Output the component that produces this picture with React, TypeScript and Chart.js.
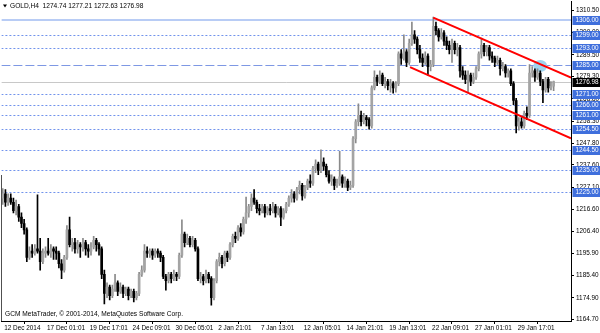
import { useEffect, useRef } from "react";
import { Chart, registerables } from "chart.js";

Chart.register(...registerables);

const symbol = "GOLD,H4";

const opens = [
  1222, 1224, 1220, 1222, 1220, 1216, 1218, 1213, 1210, 1207,
  1194, 1197, 1196, 1198, 1197, 1192, 1196, 1197, 1196, 1198,
  1197, 1196, 1191, 1188, 1194, 1207, 1200, 1201, 1198, 1200,
  1199, 1201, 1198, 1197, 1199, 1202, 1200, 1198, 1186, 1177,
  1180, 1176, 1179, 1182, 1178, 1180, 1177, 1179, 1176, 1178,
  1175, 1177, 1186, 1188, 1197, 1196, 1197, 1195, 1197, 1196,
  1194, 1185, 1183, 1186, 1184, 1186, 1185, 1195, 1205, 1201,
  1203, 1200, 1202, 1198, 1184, 1185, 1183, 1186, 1184, 1175,
  1183, 1192, 1194, 1191, 1196, 1194, 1200, 1204, 1203, 1208,
  1206, 1212, 1215, 1218, 1222, 1220, 1217, 1216, 1218, 1215,
  1217, 1216, 1218, 1215, 1217, 1213, 1216, 1219, 1222, 1224,
  1222, 1226, 1228, 1223, 1227, 1230, 1229, 1236, 1238, 1235,
  1239, 1237, 1233, 1230, 1231, 1228, 1229, 1232, 1229, 1230,
  1227, 1228, 1250, 1258, 1261, 1258, 1260, 1259, 1256, 1274,
  1279, 1277, 1280, 1276, 1277, 1275, 1276, 1274, 1276, 1290,
  1288, 1291, 1286, 1295, 1299, 1297, 1292, 1288, 1286, 1289,
  1284, 1285, 1303, 1301, 1298, 1300, 1296, 1294, 1292, 1295,
  1292, 1293, 1282, 1280, 1278, 1280, 1277, 1279, 1283, 1290,
  1294, 1291, 1293, 1289, 1288, 1286, 1287, 1283, 1284, 1281,
  1282, 1276, 1268, 1256, 1258, 1256, 1262, 1261, 1281, 1282,
  1279, 1281, 1277, 1273, 1278, 1274, 1274.74,
];

const highs = [
  1226.5, 1226, 1224, 1224, 1222, 1221, 1219, 1215, 1212, 1208,
  1199, 1200, 1200, 1223.5, 1203, 1198, 1199, 1203, 1200, 1199,
  1199, 1197, 1193, 1195, 1209, 1213, 1203, 1203, 1202, 1201,
  1203, 1202, 1200, 1201, 1204, 1203, 1201, 1199, 1188, 1182,
  1181, 1181, 1186, 1183, 1182, 1181, 1180, 1180, 1179, 1179,
  1178, 1187, 1190, 1200, 1199, 1198, 1198, 1198, 1198, 1197,
  1195, 1186, 1187, 1187, 1188, 1187, 1196, 1211.7, 1206, 1205,
  1204, 1204, 1203, 1199, 1187, 1186, 1188, 1187, 1185, 1184,
  1193, 1196, 1195, 1197, 1197, 1201, 1205, 1206, 1209, 1210,
  1213, 1222.5, 1219, 1224, 1226, 1221, 1219, 1219, 1219, 1218,
  1219, 1220, 1219, 1218, 1218, 1217, 1220, 1223, 1226, 1225,
  1227, 1230, 1229, 1228, 1231, 1233, 1237, 1240, 1239, 1244.7,
  1241, 1238, 1235, 1233, 1232, 1231, 1244, 1233, 1232, 1231,
  1230, 1251, 1259, 1266.4, 1263, 1262, 1261, 1260, 1275, 1282,
  1280, 1282, 1281, 1279, 1278, 1278, 1277, 1277, 1291, 1292,
  1299, 1292, 1297, 1305, 1301, 1298, 1294, 1290, 1291, 1290,
  1287, 1307.4, 1305, 1302, 1302, 1301, 1298, 1296, 1297, 1296,
  1295, 1294, 1284, 1282, 1282, 1281, 1281, 1284, 1291, 1297.5,
  1295, 1294, 1294, 1291, 1289, 1289, 1288, 1286, 1285, 1283,
  1283, 1277, 1269, 1260, 1260, 1263, 1265, 1285, 1284, 1283,
  1283, 1282, 1278, 1279, 1279, 1277, 1277.21,
];

const lows = [
  1219, 1218, 1218.5, 1219, 1215, 1214, 1211, 1208, 1205, 1192,
  1193, 1194, 1195, 1196, 1188, 1191, 1194, 1195, 1194, 1193,
  1193, 1189, 1184, 1187, 1193, 1199, 1197, 1196, 1196, 1194,
  1197, 1195, 1194, 1195, 1198, 1197, 1195, 1184, 1172, 1175,
  1174, 1175, 1178, 1176, 1177, 1175, 1176, 1174, 1175, 1173,
  1174, 1176, 1185, 1187, 1194, 1194, 1193, 1194, 1194, 1192,
  1184, 1178.5, 1182, 1182, 1183, 1183, 1184, 1194, 1199, 1200,
  1199, 1199, 1197, 1183, 1182, 1181, 1182, 1182, 1171.5, 1174,
  1182, 1190, 1189, 1190, 1192, 1193, 1199, 1201, 1202, 1204,
  1205, 1210, 1213, 1216, 1219, 1215, 1214, 1215, 1213, 1214,
  1214, 1215, 1213, 1214, 1209, 1212, 1215, 1218, 1220, 1220,
  1221, 1224, 1221, 1222, 1226, 1227, 1228, 1234, 1233, 1234,
  1235, 1232, 1229, 1228, 1226, 1227, 1228, 1227, 1227, 1225.5,
  1226, 1227, 1248, 1256, 1256, 1257, 1256, 1254.5, 1255, 1273,
  1275, 1276, 1275, 1274, 1273, 1272, 1271.5, 1272, 1275, 1285,
  1287, 1284, 1285, 1294, 1295, 1290, 1286, 1284, 1285, 1280,
  1282, 1284, 1299, 1296, 1297, 1294, 1292, 1290, 1286, 1290,
  1289, 1279, 1278, 1276, 1271.6, 1275, 1276, 1278, 1282, 1288,
  1289, 1289, 1287, 1286, 1284, 1285, 1280, 1282, 1279, 1279,
  1275, 1266, 1252.7, 1254, 1255, 1255, 1259, 1260, 1279, 1277,
  1278, 1275, 1267, 1272, 1272, 1273, 1272.63,
];

const closes = [
  1224, 1220, 1222, 1220, 1216, 1218, 1213, 1210, 1207, 1194,
  1197, 1196, 1198, 1197, 1192, 1196, 1197, 1196, 1198, 1197,
  1196, 1191, 1188, 1194, 1207, 1200, 1201, 1198, 1200, 1199,
  1201, 1198, 1197, 1199, 1202, 1200, 1198, 1186, 1177, 1180,
  1176, 1179, 1182, 1178, 1180, 1177, 1179, 1176, 1178, 1175,
  1177, 1186, 1188, 1197, 1196, 1197, 1195, 1197, 1196, 1194,
  1185, 1183, 1186, 1184, 1186, 1185, 1195, 1205, 1201, 1203,
  1200, 1202, 1198, 1184, 1185, 1183, 1186, 1184, 1175, 1183,
  1192, 1194, 1191, 1196, 1194, 1200, 1204, 1203, 1208, 1206,
  1212, 1215, 1218, 1222, 1220, 1217, 1216, 1218, 1215, 1217,
  1216, 1218, 1215, 1217, 1213, 1216, 1219, 1222, 1224, 1222,
  1226, 1228, 1223, 1227, 1230, 1229, 1236, 1238, 1235, 1239,
  1237, 1233, 1230, 1231, 1228, 1229, 1232, 1229, 1230, 1227,
  1228, 1250, 1258, 1261, 1258, 1260, 1259, 1256, 1274, 1279,
  1277, 1280, 1276, 1277, 1275, 1276, 1274, 1276, 1290, 1288,
  1291, 1286, 1295, 1299, 1297, 1292, 1288, 1286, 1289, 1284,
  1285, 1303, 1301, 1298, 1300, 1296, 1294, 1292, 1295, 1292,
  1293, 1282, 1280, 1278, 1280, 1277, 1279, 1283, 1290, 1294,
  1291, 1293, 1289, 1288, 1286, 1287, 1283, 1284, 1281, 1282,
  1276, 1268, 1256, 1258, 1256, 1262, 1261, 1281, 1282, 1279,
  1281, 1277, 1273, 1278, 1274, 1274.74, 1276.98,
];

const xTickLabels = [
  "12 Dec 2014", "17 Dec 01:01", "19 Dec 17:01", "24 Dec 09:01", "30 Dec 05:01",
  "2 Jan 21:01", "7 Jan 13:01", "12 Jan 05:01", "14 Jan 21:01", "19 Jan 13:01",
  "22 Jan 09:01", "27 Jan 01:01", "29 Jan 17:01",
];
const barsPerXLabel = 16;
const slotCount = 213;

const yTicks = [
  1164.7, 1174.9, 1185.4, 1195.9, 1206.4, 1216.6, 1227.1, 1237.6,
  1247.8, 1258.3, 1268.8, 1279.3, 1289.5, 1300.0, 1310.5,
];
const yMin = 1164.0;
const yMax = 1314.96;

const resistanceLevel = 1306;
const dashedLevel = 1285;
const dottedLevels = [1299, 1293, 1271, 1266, 1261, 1254.5, 1244.5, 1235, 1225];

const upperChannel = [
  { x: 161, y: 1307.1 },
  { x: 212.5, y: 1278.8 },
];
const lowerChannel = [
  { x: 152.3, y: 1283.8 },
  { x: 212.5, y: 1250.2 },
];
const highlight = { x: 201, y: 1284.3, rx: 2.6, ry: 2.8 };
const frameStartPrice = 1233;

const copyright = "GCM MetaTrader, \u00a9 2001-2014, MetaQuotes Software Corp.";

const FONT = '"Liberation Sans", Arial, sans-serif';
const BULL_BODY = "#a4a4a4";
const BULL_WICK = "#8a8a8a";
const BEAR = "#000000";

export default function App() {
  const ref = useRef<HTMLCanvasElement | null>(null);

  useEffect(() => {
    const canvas = ref.current;
    if (!canvas) return;
    const last = closes.length - 1;
    const bid = closes[last];
    const title = `${symbol}  ${opens[last].toFixed(2)} ${highs[last].toFixed(2)} ${lows[last].toFixed(2)} ${closes[last].toFixed(2)}`;

    const overlay = {
      id: "mt4overlay",
      beforeDatasetsDraw(chart: any) {
        const { ctx, chartArea: a, scales } = chart;
        const x = scales.x;
        const y = scales.y;
        ctx.save();
        ctx.beginPath();
        ctx.rect(a.left, a.top, a.right - a.left, a.bottom - a.top);
        ctx.clip();
        const hline = (v: number, color: string, width: number, dash: number[]) => {
          const py = Math.round(y.getPixelForValue(v)) + (width % 2 ? 0.5 : 0);
          ctx.strokeStyle = color;
          ctx.lineWidth = width;
          ctx.setLineDash(dash);
          ctx.beginPath();
          ctx.moveTo(a.left, py);
          ctx.lineTo(a.right, py);
          ctx.stroke();
        };
        dottedLevels.forEach((v) => hline(v, "#7193ec", 1, [2, 2]));
        hline(resistanceLevel, "#b8ccf5", 2, []);
        hline(dashedLevel, "#7e98e4", 1, [9, 3]);
        hline(bid, "#c8c8c8", 1, []);
        ctx.setLineDash([]);
        const cx = x.getPixelForValue(highlight.x);
        const cy = y.getPixelForValue(highlight.y);
        const rx = Math.abs(x.getPixelForValue(highlight.x + highlight.rx) - cx);
        const ry = Math.abs(y.getPixelForValue(highlight.y + highlight.ry) - cy);
        ctx.fillStyle = "#9ed3ef";
        ctx.beginPath();
        ctx.ellipse(cx, cy, rx, ry, 0, 0, Math.PI * 2);
        ctx.fill();
        ctx.restore();
      },
      afterDatasetsDraw(chart: any) {
        const { ctx, chartArea: a, scales } = chart;
        const x = scales.x;
        const y = scales.y;
        ctx.save();
        ctx.beginPath();
        ctx.rect(a.left, a.top, a.right - a.left, a.bottom - a.top);
        ctx.clip();
        ctx.strokeStyle = "#ff0000";
        ctx.lineWidth = 2;
        [upperChannel, lowerChannel].forEach((seg) => {
          ctx.beginPath();
          ctx.moveTo(x.getPixelForValue(seg[0].x), y.getPixelForValue(seg[0].y));
          ctx.lineTo(x.getPixelForValue(seg[1].x), y.getPixelForValue(seg[1].y));
          ctx.stroke();
        });
        ctx.restore();
        // left frame segment
        ctx.save();
        ctx.strokeStyle = "#505050";
        ctx.lineWidth = 1;
        ctx.beginPath();
        ctx.moveTo(1.5, Math.round(y.getPixelForValue(frameStartPrice)));
        ctx.lineTo(1.5, a.bottom);
        ctx.stroke();
        ctx.restore();
      },
      afterDraw(chart: any) {
        const { ctx, chartArea: a, scales, width } = chart;
        const y = scales.y;
        ctx.save();
        ctx.font = `6.4px ${FONT}`;
        ctx.textBaseline = "middle";
        ctx.textAlign = "left";
        const box = (v: number, bg: string) => {
          const py = Math.round(y.getPixelForValue(v));
          ctx.fillStyle = bg;
          ctx.fillRect(a.right + 1.5, py - 4, width - a.right - 1.5, 9);
          ctx.fillStyle = "#ffffff";
          ctx.fillText(v.toFixed(2), a.right + 4.5, py + 0.5);
        };
        [resistanceLevel, dashedLevel, ...dottedLevels].forEach((v) => box(v, "#3f6fdc"));
        box(bid, "#000000");
        ctx.fillStyle = "#000000";
        ctx.beginPath();
        ctx.moveTo(3, 4.5);
        ctx.lineTo(7, 4.5);
        ctx.lineTo(5, 7.5);
        ctx.closePath();
        ctx.fill();
        ctx.font = `6.6px ${FONT}`;
        ctx.fillText(title, 10, 6.5);
        ctx.fillText(copyright, 5, 314.5);
        ctx.restore();
      },
    };

    const chart = new Chart(canvas, {
      type: "bar",
      data: {
        labels: Array.from({ length: slotCount }, (_, i) => String(i)),
        datasets: [
          {
            label: "body",
            data: closes.map((c, i) => [opens[i], c]) as any,
            backgroundColor: closes.map((c, i) => (c >= opens[i] ? BULL_BODY : BEAR)),
            borderWidth: 0,
            barThickness: 2,
            minBarLength: 1,
            grouped: false,
            order: 0,
          },
          {
            label: "wick",
            data: highs.map((h, i) => [lows[i], h]) as any,
            backgroundColor: closes.map((c, i) => (c >= opens[i] ? BULL_WICK : BEAR)),
            borderWidth: 0,
            barThickness: 1,
            grouped: false,
            order: 1,
          },
        ],
      },
      options: {
        responsive: false,
        animation: false,
        devicePixelRatio: 1,
        layout: { padding: { left: 1.4, top: 1, right: 0, bottom: 0 } },
        plugins: {
          legend: { display: false },
          tooltip: { enabled: false },
        },
        scales: {
          x: {
            type: "category",
            offset: true,
            afterBuildTicks: (s: any) => {
              s.ticks = s.ticks.filter(
                (t: any) => t.value % barsPerXLabel === 0 && t.value / barsPerXLabel < xTickLabels.length
              );
            },
            afterFit: (s: any) => {
              s.height = 12;
              s.paddingLeft = 0;
              s.paddingRight = 0;
            },
            ticks: {
              autoSkip: false,
              maxRotation: 0,
              minRotation: 0,
              align: "start",
              labelOffset: 1.5,
              padding: 0,
              color: "#000000",
              font: { family: FONT, size: 6.4 },
              callback: (value: any) => xTickLabels[Number(value) / barsPerXLabel],
            },
            grid: {
              display: true,
              drawOnChartArea: false,
              drawTicks: true,
              tickLength: 3,
              color: "#000000",
            },
            border: { display: true, color: "#000000" },
          },
          y: {
            type: "linear",
            position: "right",
            min: yMin,
            max: yMax,
            afterBuildTicks: (s: any) => {
              s.ticks = yTicks.map((v) => ({ value: v }));
            },
            afterFit: (s: any) => {
              s.width = 29;
              s.paddingTop = 0;
              s.paddingBottom = 0;
            },
            ticks: {
              padding: 2,
              color: "#000000",
              font: { family: FONT, size: 6.4 },
              callback: (value: any) => Number(value).toFixed(2),
            },
            grid: {
              display: true,
              drawOnChartArea: false,
              drawTicks: true,
              tickLength: 3,
              color: "#000000",
            },
            border: { display: true, color: "#000000" },
          },
        },
      },
      plugins: [overlay],
    });

    return () => chart.destroy();
  }, []);

  return (
    <canvas
      ref={ref}
      width={600}
      height={333}
      style={{ position: "fixed", left: 0, top: 0, width: 600, height: 333, background: "#ffffff" }}
    />
  );
}
